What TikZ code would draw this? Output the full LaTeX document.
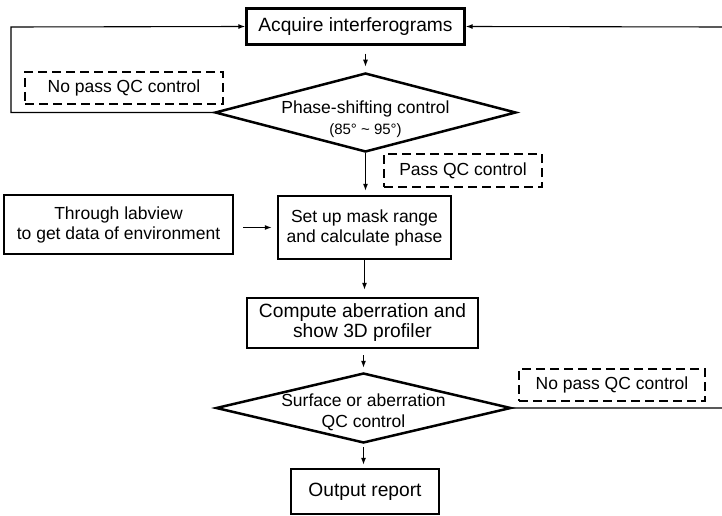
\documentclass[tikz,border=0pt]{standalone}
\usepackage{fontspec}
\setmainfont{Liberation Sans}
\usetikzlibrary{shapes.geometric,arrows.meta}
\begin{document}
\begin{tikzpicture}[x=1pt,y=-1pt,
  box/.style={draw,line width=2.4pt,inner sep=0pt,align=center,font=\fontsize{17.5}{20}\selectfont},
  bigbox/.style={box,font=\fontsize{19.2}{20}\selectfont},
  dbox/.style={draw,line width=1.9pt,dash pattern=on 9pt off 5pt,inner sep=0pt,align=center,font=\fontsize{17.5}{20}\selectfont},
  dec/.style={draw,diamond,line width=2.5pt,inner sep=0pt},
  lbl/.style={align=center,inner sep=0pt,font=\fontsize{17.5}{20}\selectfont},
  conn/.style={line width=1.1pt},
  arr/.style={conn,-{Latex[length=7pt,width=5pt]}}]
\useasboundingbox (0,0) rectangle (722,516);
\fill[white] (0,0) rectangle (722,516);

\node[bigbox,minimum width=218pt,minimum height=36pt] (acq) at (355.5,26.5) {Acquire interferograms};
\node[dec,minimum width=301pt,minimum height=79pt] (d1) at (365.5,112.5) {};
\node[lbl] (d1t) at ([yshift=-6.5pt]d1.center) {Phase-shifting control\\[1pt]{\fontsize{15}{18}\selectfont(85° \textasciitilde{} 95°)}};
\node[dbox,minimum width=198pt,minimum height=32pt] (np1) at (124,88) {No pass QC control};
\node[dbox,minimum width=158pt,minimum height=33pt] (pass) at (463,170.5) {Pass QC control};
\node[box,minimum width=229pt,minimum height=59pt] (thr) at (118.5,224.5) {Through labview\\to get data of environment};
\node[box,minimum width=173pt,minimum height=63pt] (set) at (364.5,227.5) {Set up mask range\\and calculate phase};
\node[bigbox,minimum width=231pt,minimum height=50pt] (comp) at (362.5,323) {Compute aberration and\\show 3D profiler};
\node[dec,minimum width=295pt,minimum height=70pt] (d2) at (363.5,408) {};
\node[lbl] (d2t) at ([yshift=-4.5pt]d2.center) {Surface or aberration\\[1pt]QC control};
\node[dbox,minimum width=186pt,minimum height=32pt] (np2) at (612,385) {No pass QC control};
\node[bigbox,minimum width=148pt,minimum height=45pt] (out) at (365,491.5) {Output report};

\coordinate (lt) at (11,27);
\coordinate (rt) at (724,27);

\draw[arr,shorten <=8pt,shorten >=5pt] (d1.north |- acq.south) -- (d1.north);
\draw[arr] (d1.west) -- (d1.west -| lt) -- (lt) -- (acq.west);
\draw[arr,shorten >=4pt] (d1.south) -- (d1.south |- set.north);
\draw[arr,shorten <=9pt,shorten >=5pt] (thr.east |- set.west) -- (set.west);
\draw[arr,shorten >=7pt] (set.south) -- (set.south |- comp.north);
\draw[arr,shorten <=6pt,shorten >=4pt] (d2.north |- comp.south) -- (d2.north);
\draw[arr,shorten <=3pt,shorten >=3pt] (d2.south) -- (d2.south |- out.north);
\draw[arr] (d2.east) -- (d2.east -| rt) -- (rt) -- (acq.east);
\end{tikzpicture}
\end{document}
